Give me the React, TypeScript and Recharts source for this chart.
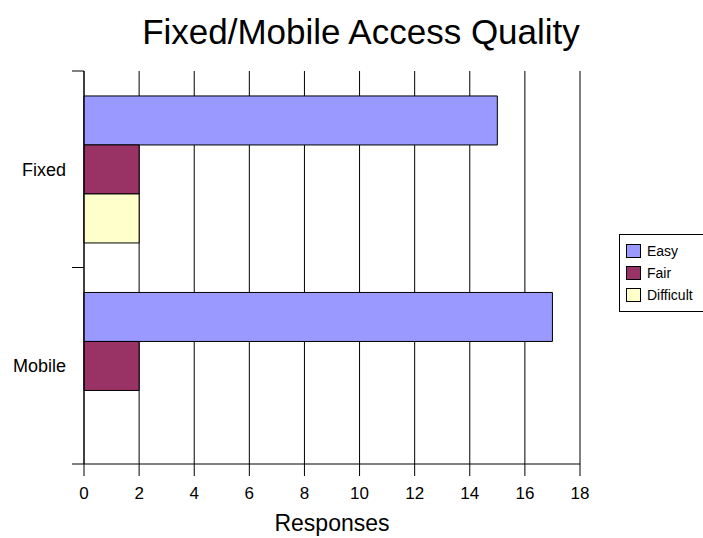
import React from "react";
import { BarChart, Bar, XAxis, YAxis, CartesianGrid, Label } from "recharts";

const categories = ["Fixed", "Mobile"];
const easy = [15, 17];
const fair = [2, 2];
const difficult = [2, 0];
const xTicks = [0, 2, 4, 6, 8, 10, 12, 14, 16, 18];

const seriesNames = ["Easy", "Fair", "Difficult"];
const seriesColors = ["#9999FF", "#993366", "#FFFFCC"];

const data = categories.map((c, i) => ({
  name: c,
  Easy: easy[i],
  Fair: fair[i],
  Difficult: difficult[i],
}));

const FONT = "Liberation Sans, Arial, sans-serif";
const W = 703;
const H = 538;
const M = { top: 71, right: 123, left: 0, bottom: 0 };
const XH = 74;
const YW = 84;
const plotH = H - M.top - M.bottom - XH;
const band = plotH / categories.length;

const YTick = (props: any) => {
  const { y, payload, index } = props;
  return (
    <g>
      <line x1={72} x2={YW} y1={y - band / 2} y2={y - band / 2} stroke="#000" />
      {index === categories.length - 1 && (
        <line x1={72} x2={YW} y1={y + band / 2} y2={y + band / 2} stroke="#000" />
      )}
      <text x={66} y={y} dy="0.36em" textAnchor="end" fontSize={18} fill="#000" fontFamily={FONT}>
        {payload.value}
      </text>
    </g>
  );
};

const LegendBox = () => (
  <div
    style={{
      position: "absolute",
      left: 619,
      top: 234,
      width: 100,
      height: 78,
      borderTop: "1px solid #000",
      borderLeft: "1px solid #000",
      borderBottom: "1px solid #000",
      boxSizing: "border-box",
      padding: "5px 0 0 6px",
      background: "#fff",
      fontFamily: FONT,
      fontSize: 14,
      color: "#000",
    }}
  >
    {seriesNames.map((n, i) => (
      <div key={n} style={{ display: "flex", alignItems: "center", height: 22, lineHeight: "22px" }}>
        <div
          style={{
            width: 15,
            height: 14,
            background: seriesColors[i],
            border: "1px solid #000",
            boxSizing: "border-box",
            marginRight: 6,
          }}
        />
        <span>{n}</span>
      </div>
    ))}
  </div>
);

export default function App() {
  return (
    <div style={{ position: "absolute", left: 0, top: 0, width: W, height: H, background: "#fff", overflow: "hidden" }}>
      <BarChart
        width={W}
        height={H}
        data={data}
        layout="vertical"
        margin={M}
        barCategoryGap="12.7%"
        barGap={0}
        style={{ position: "absolute", left: 0, top: 0 }}
      >
        <CartesianGrid horizontal={false} stroke="#000" />
        <XAxis
          type="number"
          domain={[0, 18]}
          ticks={xTicks}
          height={XH}
          stroke="#000"
          tickSize={12}
          tickMargin={11}
          tick={{ fontSize: 17, fill: "#000", fontFamily: FONT }}
        >
          <Label
            value="Responses"
            position="insideBottom"
            offset={7}
            style={{ fontSize: 23, fill: "#000", fontFamily: FONT }}
          />
        </XAxis>
        <YAxis type="category" dataKey="name" width={YW} stroke="#000" tickLine={false} tick={<YTick />} />
        {seriesNames.map((n, i) => (
          <Bar key={n} dataKey={n} fill={seriesColors[i]} stroke="#000" strokeWidth={1} isAnimationActive={false} />
        ))}
      </BarChart>
      <div
        style={{
          position: "absolute",
          left: 0,
          top: 14,
          width: 722,
          textAlign: "center",
          fontFamily: FONT,
          fontSize: 35,
          color: "#000",
          lineHeight: "35px",
          whiteSpace: "nowrap",
        }}
      >
        Fixed/Mobile Access Quality
      </div>
      <LegendBox />
    </div>
  );
}
